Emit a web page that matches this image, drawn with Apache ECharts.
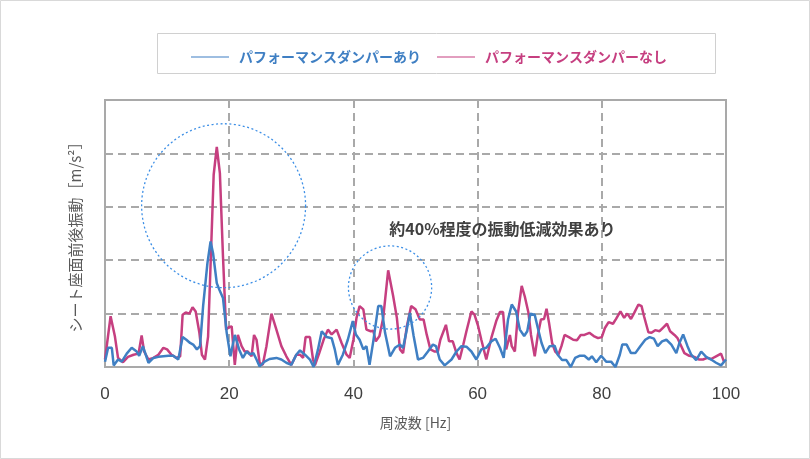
<!DOCTYPE html>
<html>
<head>
<meta charset="utf-8">
<script src="https://cdn.jsdelivr.net/npm/echarts@6/dist/echarts.min.js"></script>
<style>
html,body{margin:0;padding:0;background:#fff;}
#chart{width:810px;height:459px;}
</style>
</head>
<body>
<div id="chart"></div>
<script>
// ---- data ----
const seriesNames = ['パフォーマンスダンパーあり', 'パフォーマンスダンパーなし'];
const xTicks = [0, 20, 40, 60, 80, 100];

const freqWith = [0.0,0.5,1.1,1.4,2.1,2.7,3.5,4.3,5.1,5.5,6.1,7.0,7.8,8.6,9.4,10.2,11.0,11.8,12.5,13.1,13.7,14.2,14.8,15.3,15.8,16.5,17.0,17.4,18.0,18.4,19.0,19.6,20.2,20.9,21.6,22.2,22.8,23.3,23.9,24.4,24.9,25.7,26.5,27.6,28.4,29.2,30.0,30.8,31.4,32.2,33.0,33.6,34.3,34.9,35.7,36.5,37.0,37.5,38.3,39.1,39.9,40.4,41.0,41.6,42.1,42.6,43.2,44.0,44.5,45.1,45.9,46.7,47.5,48.0,48.5,49.1,49.7,50.4,51.2,52.0,52.8,53.3,53.9,54.7,55.8,56.6,57.4,58.2,59.0,59.8,60.6,61.4,62.2,62.9,63.6,64.2,64.9,65.5,66.2,66.8,67.5,68.0,68.5,69.2,69.7,70.3,70.9,71.6,72.4,72.9,73.6,74.3,75.0,75.7,76.4,77.2,77.9,78.4,79.1,79.9,80.7,81.5,82.2,82.9,83.3,84.0,84.7,85.4,86.2,87.0,87.7,88.4,89.0,89.7,90.4,91.2,92.0,92.5,93.1,93.8,94.4,95.2,96.0,96.8,97.6,98.4,99.2,100];
const vibWith = [0.10,0.36,0.36,0.03,0.14,0.10,0.25,0.36,0.29,0.21,0.39,0.08,0.17,0.19,0.20,0.21,0.21,0.14,0.56,0.51,0.45,0.42,0.33,0.39,1.14,1.95,2.35,2.13,1.57,1.45,1.29,0.64,0.20,0.60,0.33,0.17,0.29,0.24,0.26,0.14,0.01,0.10,0.15,0.17,0.14,0.08,0.04,0.23,0.31,0.23,0.14,0.00,0.33,0.67,0.56,0.54,0.33,0.04,0.23,0.51,0.86,0.61,0.51,0.33,0.39,0.04,0.48,1.14,1.14,0.64,0.20,0.36,0.42,0.36,0.64,1.01,0.58,0.14,0.17,0.29,0.42,0.39,0.14,0.03,0.14,0.29,0.39,0.38,0.29,0.14,0.33,0.36,0.48,0.53,0.36,0.17,0.89,1.17,1.04,0.70,0.58,0.67,1.00,0.98,0.73,0.45,0.26,0.39,0.40,0.23,0.13,0.13,0.00,0.17,0.21,0.21,0.14,0.20,0.09,0.21,0.10,0.10,0.00,0.23,0.42,0.42,0.26,0.26,0.39,0.51,0.56,0.53,0.39,0.48,0.51,0.42,0.26,0.45,0.61,0.39,0.23,0.13,0.29,0.19,0.14,0.08,0.03,0.14];

const freqWithout = [0.0,0.9,1.6,2.1,2.9,3.7,4.6,5.4,5.9,6.3,7.0,7.8,8.6,9.4,10.0,10.7,11.5,12.1,12.5,13.0,13.6,14.1,14.6,15.2,15.6,16.1,16.6,17.5,18.0,18.5,19.0,19.5,20.0,20.4,20.9,21.4,22.0,22.5,23.0,23.6,24.0,24.4,24.9,25.4,26.0,26.8,27.6,28.4,29.2,30.0,30.8,31.4,31.9,32.3,33.0,33.5,33.8,34.5,35.2,35.9,36.5,37.3,38.1,38.9,39.4,40.0,40.5,41.0,41.6,42.1,42.8,43.2,43.6,44.2,44.8,45.6,46.4,47.0,47.5,48.0,48.6,49.3,50.0,50.7,51.3,51.8,52.4,53.1,53.6,54.0,54.9,55.4,56.0,56.6,57.1,57.7,58.2,59.0,59.5,60.1,60.6,61.4,62.2,63.0,63.6,64.1,64.6,65.2,65.5,66.0,66.5,67.1,67.6,68.2,68.6,69.2,69.7,70.2,70.7,71.1,71.5,72.0,72.5,73.0,73.5,74.0,74.7,75.4,76.0,76.6,77.2,78.0,78.7,79.4,80.0,80.5,81.1,81.8,82.3,83.0,83.6,84.1,84.7,85.2,85.9,86.4,86.8,87.5,88.0,88.6,89.3,89.8,90.5,91.0,91.7,92.2,92.8,93.3,94.1,94.9,95.7,96.3,97.0,97.6,98.4,99.2,99.7];
const vibWithout = [0.14,0.95,0.57,0.17,0.09,0.19,0.23,0.25,0.59,0.29,0.14,0.17,0.23,0.36,0.33,0.23,0.17,0.20,0.98,1.02,1.00,1.12,1.04,0.64,0.23,0.14,0.57,3.60,4.12,3.63,2.07,0.70,0.75,0.76,0.04,0.60,0.39,0.29,0.29,0.20,0.60,0.51,0.08,0.04,0.39,1.00,0.70,0.39,0.20,0.04,0.23,0.23,0.17,0.56,0.56,0.14,0.03,0.26,0.51,0.70,0.61,0.70,0.45,0.23,0.17,0.51,0.92,1.14,1.08,0.70,0.67,0.68,0.48,0.58,0.92,1.81,1.33,0.92,0.33,0.26,0.76,1.14,1.08,0.89,0.89,0.61,0.33,0.29,0.29,0.51,0.79,0.48,0.48,0.26,0.14,0.42,0.67,1.04,0.98,0.76,0.51,0.14,0.54,0.86,1.03,1.03,0.33,0.60,0.39,0.29,1.01,1.52,1.32,1.01,0.60,0.20,0.60,0.89,0.90,1.09,0.83,0.45,0.29,0.23,0.39,0.60,0.56,0.51,0.50,0.60,0.60,0.64,0.58,0.54,0.56,0.73,0.84,0.81,0.90,1.04,0.92,1.00,0.90,1.01,1.17,1.14,0.95,0.65,0.64,0.69,0.67,0.73,0.81,0.67,0.60,0.54,0.39,0.26,0.21,0.19,0.14,0.14,0.17,0.15,0.20,0.25,0.09];

// annotation anchors (data coordinates) and text
const noteText = '約40%程度の振動低減効果あり';
const noteAt = [64.0, 2.59];
const circles = [
  {center: [19.1, 3.02], rHz: 13.2},
  {center: [45.9, 1.49], rHz: 6.7}
];

const BLUE = '#3f7fc3';
const PINK = '#c63f80';

const chart = echarts.init(document.getElementById('chart'), null, {renderer: 'canvas'});

function pairs(xs, ys) { return xs.map((x, i) => [x, ys[i]]); }

const option = {
  backgroundColor: '#ffffff',
  animation: false,
  grid: {left: 105, right: 84, top: 100, bottom: 92, show: true, borderColor: '#a9a9a9', borderWidth: 2, backgroundColor: 'transparent'},
  legend: {
    left: 186, top: 45,
    itemWidth: 38, itemHeight: 1.2, itemGap: 16,
    icon: 'rect',
    data: [
      {name: seriesNames[0], textStyle: {color: BLUE}},
      {name: seriesNames[1], textStyle: {color: PINK}}
    ],
    textStyle: {fontSize: 14, fontWeight: 'bold', fontFamily: 'Noto Sans CJK JP', padding: [0, 0, 0, 5]}
  },
  xAxis: {
    type: 'value', min: 0, max: 100, interval: 20,
    axisLine: {show: true, lineStyle: {color: '#a9a9a9', width: 2}},
    axisTick: {show: false},
    axisLabel: {color: '#404040', fontSize: 17, fontFamily: 'Liberation Sans, sans-serif', margin: 19,
      formatter: v => xTicks.includes(v) ? String(v) : ''},
    splitLine: {show: true, showMinLine: false, showMaxLine: false, lineStyle: {color: '#a9a9a9', width: 2, type: [8, 5]}},
    name: '周波数 [Hz]', nameLocation: 'middle', nameGap: 49,
    nameTextStyle: {color: '#595959', fontSize: 14, fontFamily: 'Noto Sans CJK JP'}
  },
  yAxis: {
    type: 'value', min: 0, max: 5, interval: 1,
    axisLine: {show: true, lineStyle: {color: '#a9a9a9', width: 2}},
    axisTick: {show: false},
    axisLabel: {show: false},
    splitLine: {show: true, showMinLine: false, showMaxLine: false, lineStyle: {color: '#a9a9a9', width: 2, type: [8, 5]}},
    name: 'シート座面前後振動［m/s²］', nameLocation: 'middle', nameGap: 22,
    nameTextStyle: {color: '#595959', fontSize: 15, fontFamily: 'Noto Sans CJK JP'}
  },
  series: [
    {name: seriesNames[1], type: 'line', data: pairs(freqWithout, vibWithout), symbol: 'none',
      lineStyle: {color: PINK, width: 2.5}, itemStyle: {color: PINK}, z: 2},
    {name: seriesNames[0], type: 'line', data: pairs(freqWith, vibWith), symbol: 'none',
      lineStyle: {color: BLUE, width: 2.5}, itemStyle: {color: BLUE}, z: 3}
  ]
};
chart.setOption(option);

function buildGraphics() {
  const g = [];
  g.push({type: 'rect', shape: {x: 0.5, y: 0.5, width: 809, height: 458}, style: {fill: 'none', stroke: '#d9d9d9', lineWidth: 1}, silent: true, z: -10});
  g.push({type: 'rect', shape: {x: 157.5, y: 33.5, width: 558, height: 40}, style: {fill: 'none', stroke: '#d0d0d0', lineWidth: 1}, silent: true, z: -9});
  circles.forEach(c => {
    const p = chart.convertToPixel({gridIndex: 0}, c.center);
    const q = chart.convertToPixel({gridIndex: 0}, [c.center[0] + c.rHz, c.center[1]]);
    g.push({type: 'circle', shape: {cx: p[0], cy: p[1], r: q[0] - p[0]},
      style: {fill: 'none', stroke: '#3d8fe6', lineWidth: 1.3, lineDash: [2, 2.5]}, silent: true, z: 10});
  });
  const t = chart.convertToPixel({gridIndex: 0}, noteAt);
  g.push({type: 'text', x: t[0], y: t[1], style: {text: noteText, fill: '#404040', fontSize: 16, fontWeight: 'bold',
    fontFamily: 'Noto Sans CJK JP', align: 'center', verticalAlign: 'middle'}, silent: true, z: 10});
  chart.setOption({graphic: g});
}
buildGraphics();
</script>
</body>
</html>
